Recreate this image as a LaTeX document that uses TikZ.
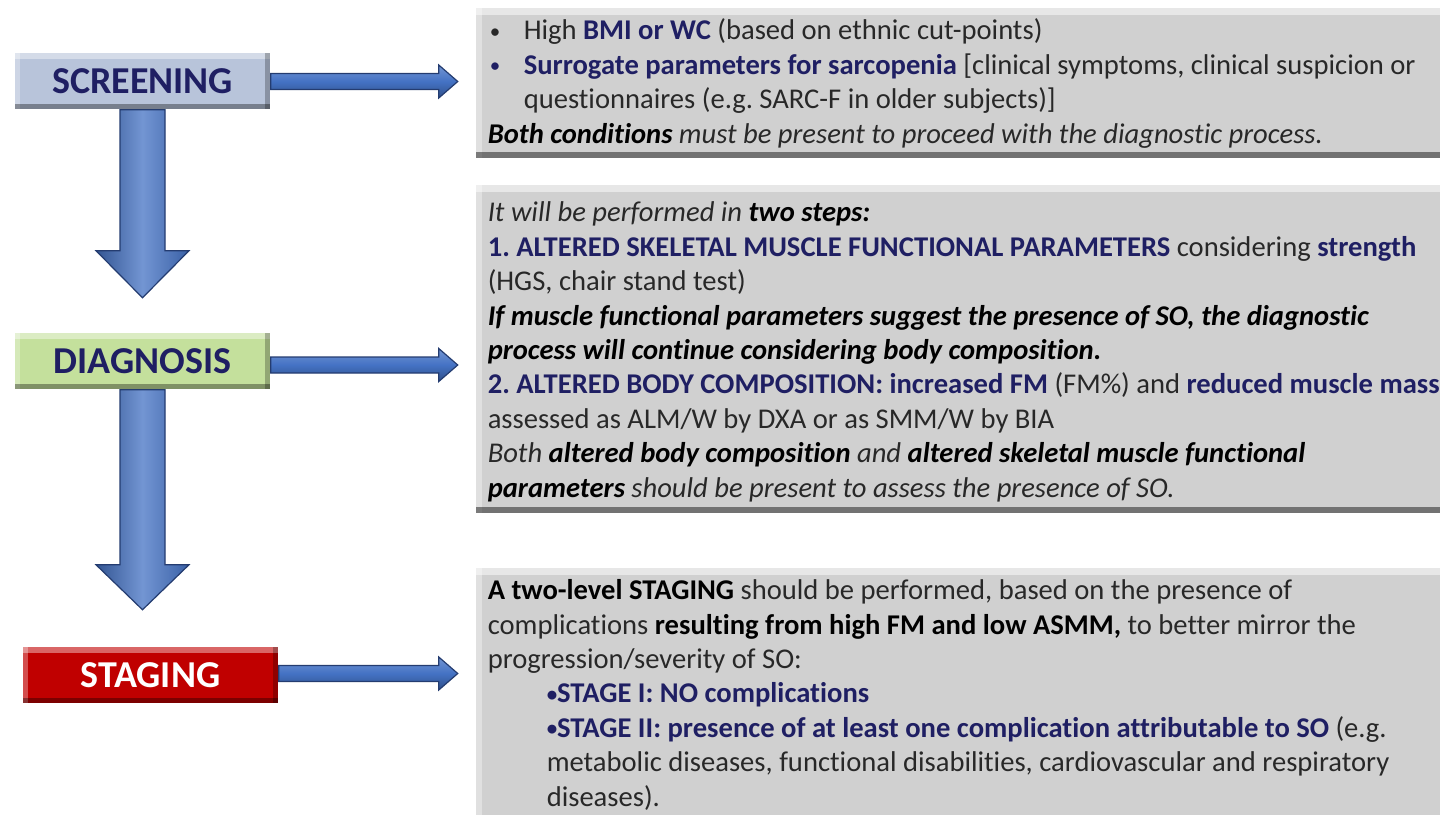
\documentclass[tikz,border=0pt]{standalone}
\usepackage{fontspec}
\setmainfont{Carlito}[Ligatures=NoCommon]
\usetikzlibrary{calc}
\frenchspacing

\definecolor{navytext}{RGB}{31,31,99}
\definecolor{greytext}{RGB}{40,40,40}
\definecolor{infogrey}{RGB}{208,208,208}
\definecolor{arrowblue}{RGB}{68,114,196}
\definecolor{arrowedge}{RGB}{36,60,112}
\definecolor{screenblue}{RGB}{184,196,218}
\definecolor{diaggreen}{RGB}{196,224,156}
\definecolor{stagered}{RGB}{192,0,0}

\newcommand{\smallbul}{\raisebox{0.8pt}{\fontsize{10.5}{10.5}\selectfont •}}

\tikzset{every picture/.style={line width=0.75pt}}
\tikzset{
  stepbox/.style={minimum width=127.5pt, minimum height=28pt, inner sep=0pt,
    font=\fontsize{19}{22}\selectfont\bfseries,
    path picture={
      \fill[white, opacity=0.4] (path picture bounding box.north west) rectangle ([yshift=-3pt]path picture bounding box.north east);
      \fill[white, opacity=0.3] (path picture bounding box.north west) rectangle ([xshift=2.5pt]path picture bounding box.south west);
      \fill[black, opacity=0.35] (path picture bounding box.south west) rectangle ([yshift=2.5pt]path picture bounding box.south east);
      \fill[black, opacity=0.25] (path picture bounding box.north east) rectangle ([xshift=-2.5pt]path picture bounding box.south east);
    }},
  infobox/.style={fill=infogrey, minimum width=483.5pt, inner sep=0pt, anchor=north west,
    path picture={
      \fill[white, opacity=0.5] (path picture bounding box.north west) rectangle ([yshift=-3.5pt]path picture bounding box.north east);
      \fill[white, opacity=0.35] (path picture bounding box.north west) rectangle ([xshift=3pt]path picture bounding box.south west);
      \fill[black, opacity=0.45] (path picture bounding box.south west) rectangle ([yshift=3pt]path picture bounding box.south east);
    }},
  infotext/.style={anchor=base west, align=left, inner sep=0pt, text=greytext,
    font=\fontsize{14.3}{17.2}\selectfont},
  blockarrow/.style={draw=arrowedge, line width=0.6pt, line join=miter},
  vshade/.style={left color=arrowblue!75!black, right color=arrowblue!85!black, middle color=arrowblue!75!white},
  hshade/.style={top color=arrowblue!75!white, bottom color=arrowblue!70!black, middle color=arrowblue},
}

\begin{document}
\begin{tikzpicture}[x=0.5pt,y=0.5pt,yscale=-1,xscale=1]
\useasboundingbox (0,0) rectangle (1440,814);

% Step labels
\node[stepbox, fill=screenblue, text=navytext] (screen) at (142.5,81) {SCREENING};
\node[stepbox, fill=diaggreen, text=navytext] (diag) at (142.5,361) {DIAGNOSIS};
\node[stepbox, fill=stagered, text=white] (stage) at (150.5,675) {STAGING};

% Info panels
\node[infobox, minimum height=75pt] (scrinfo) at (475,7) {};
\node[infobox, minimum height=164pt] (diaginfo) at (475,184) {};
\node[infobox, minimum height=132pt] (stageinfo) at (475,567) {};

% Down arrows
\draw[blockarrow, vshade] ($(screen.south)+(-22.5,0)$) -- ++(0,141) -- ++(-24,0) -- ++(46.5,47) -- ++(46.5,-47) -- ++(-24,0) -- ++(0,-141) -- cycle;
\draw[blockarrow, vshade] ($(diag.south)+(-22.5,0)$) -- ++(0,175) -- ++(-24,0) -- ++(46.5,45) -- ++(46.5,-45) -- ++(-24,0) -- ++(0,-175) -- cycle;

% Side arrows
\draw[blockarrow, hshade] ($(screen.east)+(0,-7.5)$) -- ++(168,0) -- ++(0,-8.5) -- ++(19,16.5) -- ++(-19,16.5) -- ++(0,-8.5) -- ++(-168,0) -- cycle;
\draw[blockarrow, hshade] ($(diag.east)+(0,-4)$) -- ++(168,0) -- ++(0,-8.5) -- ++(19,16.5) -- ++(-19,16.5) -- ++(0,-8.5) -- ++(-168,0) -- cycle;
\draw[blockarrow, hshade] ($(stage.east)+(0,-9.5)$) -- ++(160,0) -- ++(0,-8.5) -- ++(19,16.5) -- ++(-19,16.5) -- ++(0,-8.5) -- ++(-160,0) -- cycle;

% Panel texts (anchored at the last baseline)
\node[infotext] (scrtext) at ($(scrinfo.north west)+(12,136)$) {%
\makebox[18pt][l]{\hspace*{1pt}\smallbul}High \textcolor{navytext}{\textbf{BMI or WC}} (based on ethnic cut-points)\\
\makebox[18pt][l]{\hspace*{1pt}\textcolor{navytext}{\smallbul}}\textcolor{navytext}{\textbf{Surrogate parameters for sarcopenia}} [clinical symptoms, clinical suspicion or\\
\hspace*{18pt}questionnaires (e.g. SARC-F in older subjects)]\\
\textit{\textcolor{black}{\textbf{Both conditions}} must be present to proceed with the diagnostic process.}};

\node[infotext] (diagtext) at ($(diaginfo.north west)+(12,313)$) {%
\textit{It will be performed in} \textcolor{black}{\textbf{\textit{two steps:}}}\\
\textcolor{navytext}{\textbf{1. ALTERED SKELETAL MUSCLE FUNCTIONAL PARAMETERS}} considering \textcolor{navytext}{\textbf{strength}}\\
(HGS, chair stand test)\\
\textcolor{black}{\textbf{\textit{If muscle functional parameters suggest the presence of SO, the diagnostic}}}\\
\textcolor{black}{\textbf{\textit{process will continue considering body composition.}}}\\
\textcolor{navytext}{\textbf{2. ALTERED BODY COMPOSITION: increased FM}} (FM\%) and \textcolor{navytext}{\textbf{reduced muscle mass}}\\
assessed as ALM/W by DXA or as SMM/W by BIA\\
\textit{Both \textcolor{black}{\textbf{altered body composition}} and \textcolor{black}{\textbf{altered skeletal muscle functional}}}\\
\textit{\textcolor{black}{\textbf{parameters}} should be present to assess the presence of SO.}};

\node[infotext] (stagetext) at ($(stageinfo.north west)+(12,239)$) {%
\textcolor{black}{\textbf{A two-level STAGING}} should be performed, based on the presence of\\
complications \textcolor{black}{\textbf{resulting from high FM and low ASMM,}} to better mirror the\\
progression/severity of SO:\\
\hspace*{29.5pt}\textcolor{navytext}{\textbf{\smallbul STAGE I: NO complications}}\\
\hspace*{29.5pt}\textcolor{navytext}{\textbf{\smallbul STAGE II: presence of at least one complication attributable to SO}} (e.g.\\
\hspace*{29.5pt}metabolic diseases, functional disabilities, cardiovascular and respiratory\\
\hspace*{29.5pt}diseases).};

\end{tikzpicture}
\end{document}
